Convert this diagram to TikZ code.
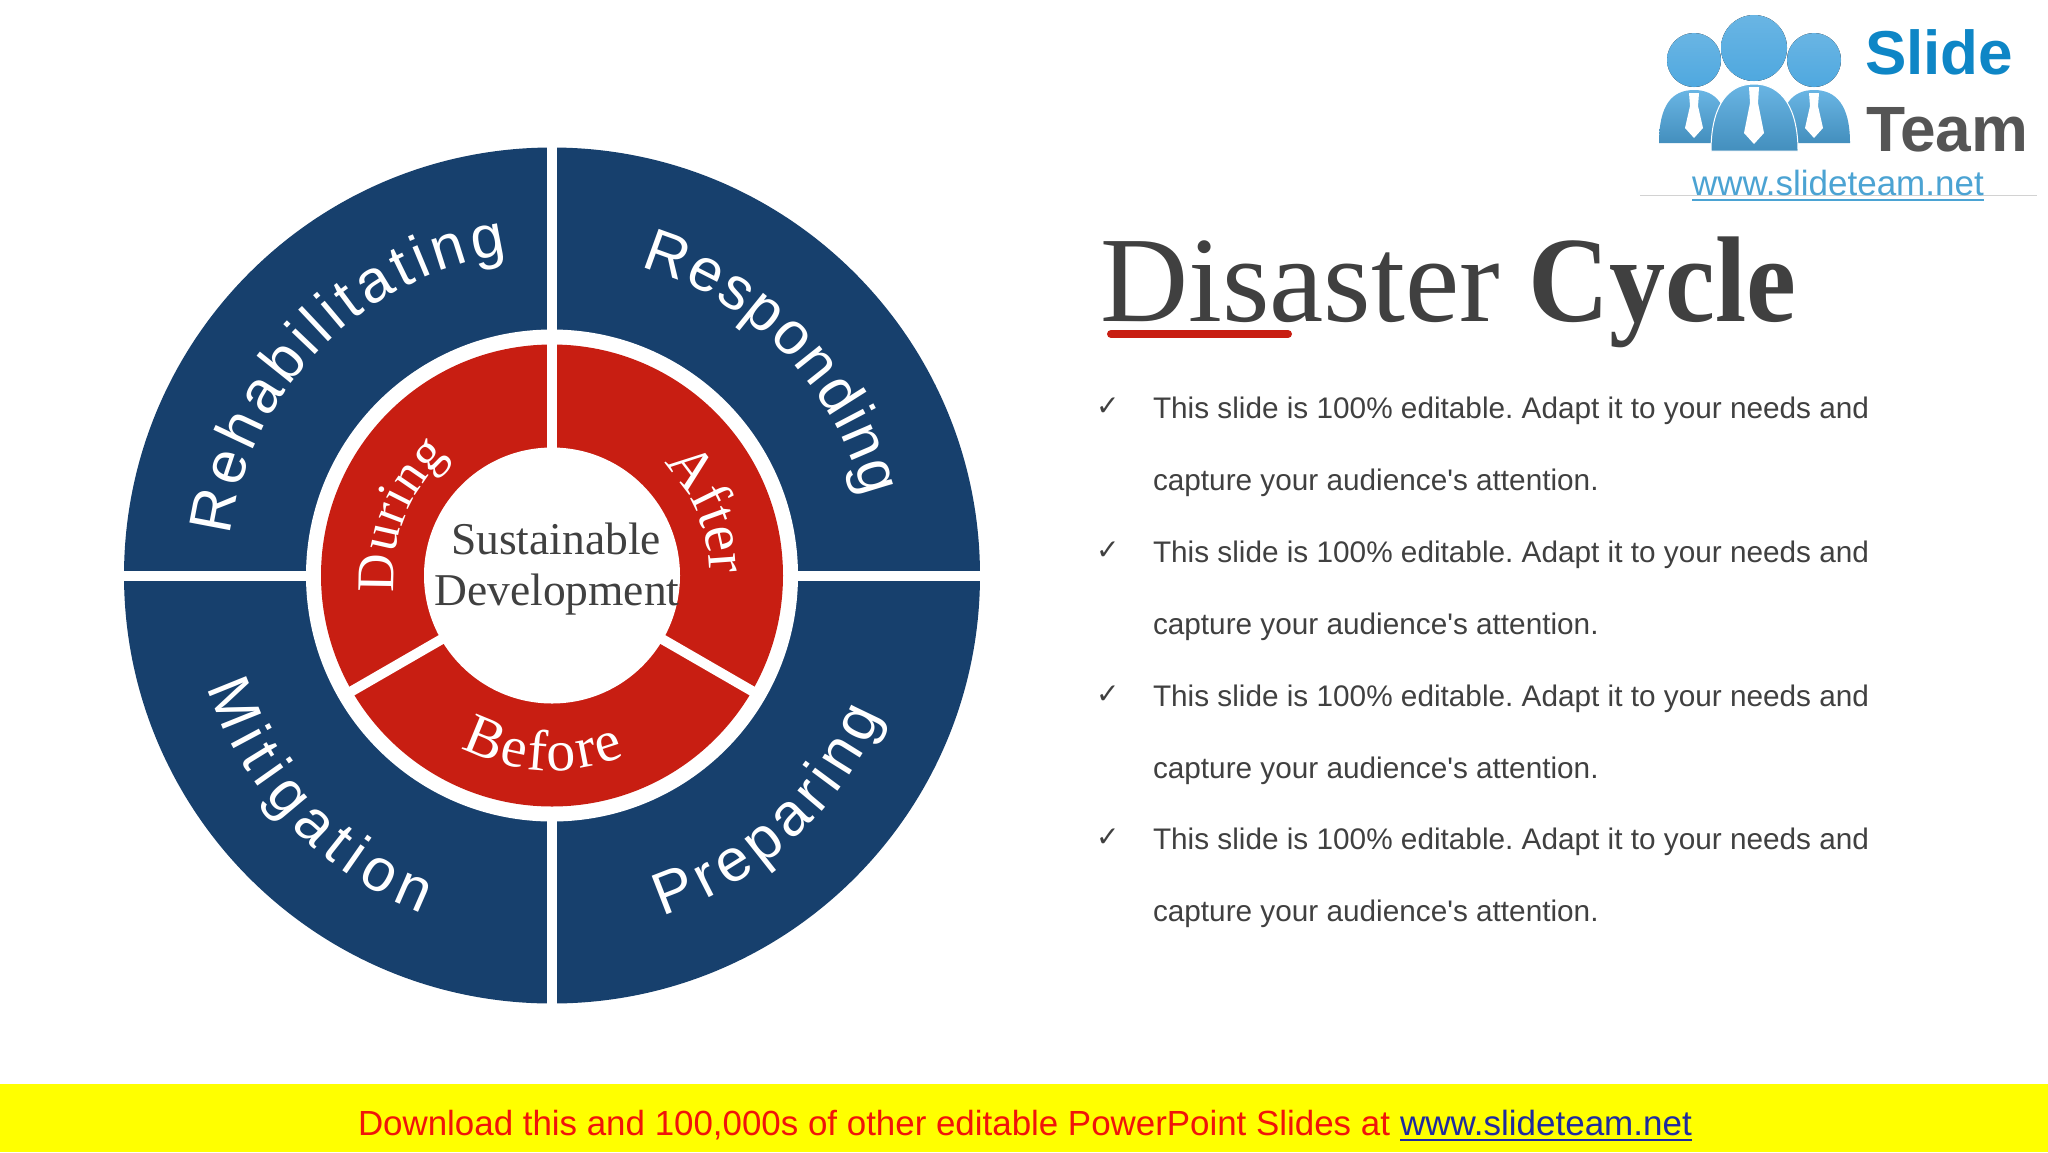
\documentclass[tikz,border=0pt]{standalone}
\usepackage{fontspec}
\usetikzlibrary{decorations.text}
\setmainfont{Liberation Sans}
\newfontfamily\headfont{Liberation Serif}
\newfontfamily\cyclefont[FakeStretch=0.92]{Liberation Serif}
\newfontfamily\checkfont{DejaVu Sans}
\definecolor{ringblue}{HTML}{17406D}
\definecolor{ringred}{HTML}{C81E12}
\definecolor{darktext}{HTML}{404040}
\definecolor{logoblue}{HTML}{4FA8DF}
\definecolor{logotext}{HTML}{0E86C6}
\definecolor{logogray}{HTML}{555555}
\definecolor{urlblue}{HTML}{4BA3D3}
\definecolor{barblue}{HTML}{1F2A9E}
\definecolor{baryellow}{HTML}{FFFF00}
\definecolor{barred}{HTML}{F0140A}
\newcommand{\bandfmt}{\fontsize{60}{60}\selectfont\color{white}}
\newcommand{\ringfmt}{\headfont\fontsize{58}{58}\selectfont\color{white}}
\newcommand{\duringfmt}{\headfont\fontsize{53}{53}\selectfont\color{white}}
\frenchspacing

\begin{document}
\begin{tikzpicture}[x=1pt, y=1pt,
  lbl/.style={inner sep=0, outer sep=0, anchor=base west},
  bodytxt/.style={lbl, text=darktext, font=\fontsize{29.75}{30}\selectfont},
  tick/.style={lbl, text=darktext, font=\checkfont\fontsize{28}{28}\selectfont},
  gap/.style={draw=white, line width=10},
  person/.style={top color=logoblue!85!white, bottom color=logoblue!85!black, draw=none},
  tie/.style={fill=white, draw=none}]
\useasboundingbox (0,0) rectangle (2048,-1152);
\fill[white] (0,0) rectangle (2048,-1152);

\begin{scope}[shift={(552,-575.5)}]
\fill[ringblue] (0,0) circle[radius=428];
\fill[white] (0,0) circle[radius=246];
\fill[ringred] (0,0) circle[radius=231];
\draw[gap] (90:128) -- (90:430);
\draw[gap] (270:240) -- (270:430);
\draw[gap] (180:240) -- (180:430);
\draw[gap] (0:240) -- (0:430);
\draw[gap] (210:120) -- (210:236);
\draw[gap] (330:120) -- (330:236);
\fill[white] (0,0) circle[radius=128];
\path[decorate, decoration={text along path, text align={fit to path}, text={|\bandfmt|Rehabilitating}}] (173:324) arc[start angle=173, end angle=98, radius=324];
\path[decorate, decoration={text along path, text align={fit to path}, text={|\bandfmt|Responding}}] (74:321) arc[start angle=74, end angle=14, radius=321];
\path[decorate, decoration={text along path, text align={fit to path}, text={|\bandfmt|Preparing}}] (-72:358) arc[start angle=-72, end angle=-23, radius=358];
\path[decorate, decoration={text along path, text align={fit to path}, text={|\bandfmt|Mitigation}}] (198:362) arc[start angle=198, end angle=249, radius=362];
\path[decorate, decoration={text along path, text align={fit to path}, text={|\duringfmt|During}}] (186:158) arc[start angle=186, end angle=131, radius=158];
\path[decorate, decoration={text along path, text align={fit to path}, text={|\ringfmt|After}}] (45:158) arc[start angle=45, end angle=4, radius=158];
\path[decorate, decoration={text along path, text align={fit to path}, text={|\ringfmt|Before}}] (242:195) arc[start angle=242, end angle=292, radius=195];
\end{scope}

\node(Sust) [lbl, anchor=base, text=darktext, font=\headfont\fontsize{45.5}{46}\selectfont] at (556,-554) {Sustainable};
\node(Dev) [lbl, anchor=base, text=darktext, font=\headfont\fontsize{45.5}{46}\selectfont] at (557,-605) {Development};

\node(Title) [lbl, text=darktext, font=\headfont\fontsize{122}{122}\selectfont] at (1100,-321) {Disaster};
\node(Cycle) [lbl, text=darktext, font=\cyclefont\bfseries\fontsize{122}{122}\selectfont] at (1528,-321) {Cycle};
\draw[ringred, line width=8, line cap=round] (1111,-334) -- (1288,-334);

\node(T1) [tick] at (1096,-415) {✓};
\node(A1) [bodytxt] at (1153,-418) {This slide is 100\% editable. Adapt it to your needs and};
\node(B1) [bodytxt] at (1153,-490) {capture your audience\textquotesingle s attention.};
\node(T2) [tick] at (1096,-559) {✓};
\node(A2) [bodytxt] at (1153,-562) {This slide is 100\% editable. Adapt it to your needs and};
\node(B2) [bodytxt] at (1153,-634) {capture your audience\textquotesingle s attention.};
\node(T3) [tick] at (1096,-703) {✓};
\node(A3) [bodytxt] at (1153,-706) {This slide is 100\% editable. Adapt it to your needs and};
\node(B3) [bodytxt] at (1153,-778) {capture your audience\textquotesingle s attention.};
\node(T4) [tick] at (1096,-846) {✓};
\node(A4) [bodytxt] at (1153,-849) {This slide is 100\% editable. Adapt it to your needs and};
\node(B4) [bodytxt] at (1153,-921) {capture your audience\textquotesingle s attention.};

\draw[person] (1659,-143) .. controls (1659,-105) and (1672,-90) .. (1694,-90) .. controls (1716,-90) and (1729,-105) .. (1729,-143) -- cycle;
\draw[person] (1779,-143) .. controls (1779,-105) and (1792,-90) .. (1814,-90) .. controls (1836,-90) and (1850,-105) .. (1850,-143) -- cycle;
\draw[person, draw=white, line width=1] (1711,-151) .. controls (1711,-110) and (1725,-84) .. (1754,-84) .. controls (1783,-84) and (1798,-110) .. (1798,-151) -- cycle;
\fill[top color=logoblue!85!white, bottom color=logoblue] (1694,-60) circle[radius=27];
\fill[top color=logoblue!85!white, bottom color=logoblue] (1814,-60) circle[radius=27];
\fill[top color=logoblue!85!white, bottom color=logoblue] (1754,-48) circle[radius=33];
\fill[tie] (1689,-93) -- (1699,-93) -- (1698,-106) -- (1703,-128) -- (1694,-138) -- (1685,-128) -- (1690,-106) -- cycle;
\fill[tie] (1749,-87) -- (1759,-87) -- (1758,-103) -- (1764,-133) -- (1754,-144) -- (1744,-133) -- (1750,-103) -- cycle;
\fill[tie] (1809,-93) -- (1819,-93) -- (1818,-106) -- (1823,-128) -- (1814,-138) -- (1805,-128) -- (1810,-106) -- cycle;
\node(Slide) [lbl, text=logotext, font=\fontsize{62}{62}\selectfont\bfseries] at (1865,-74) {Slide};
\node(Team) [lbl, text=logogray, font=\fontsize{64}{64}\selectfont\bfseries] at (1866,-151) {Team};
\draw[lightgray!70, line width=1] (1640,-195.5) -- (2037,-195.5);
\node(Url) [lbl, text=urlblue, font=\fontsize{35}{35}\selectfont] at (1692,-195) {www.slideteam.net};
\draw[urlblue, line width=2] ([yshift=-5]Url.base west) -- ([yshift=-5]Url.base east);

\fill[baryellow] (0,-1084) rectangle (2048,-1152);
\node(Dl) [lbl, text=barred, font=\fontsize{34.9}{35}\selectfont] at (358,-1135) {Download this and 100,000s of other editable PowerPoint Slides at};
\node(Link) [lbl, text=barblue, font=\fontsize{35}{35}\selectfont] at (1400,-1135) {www.slideteam.net};
\draw[barblue, line width=2] ([yshift=-5]Link.base west) -- ([yshift=-5]Link.base east);
\end{tikzpicture}
\end{document}
